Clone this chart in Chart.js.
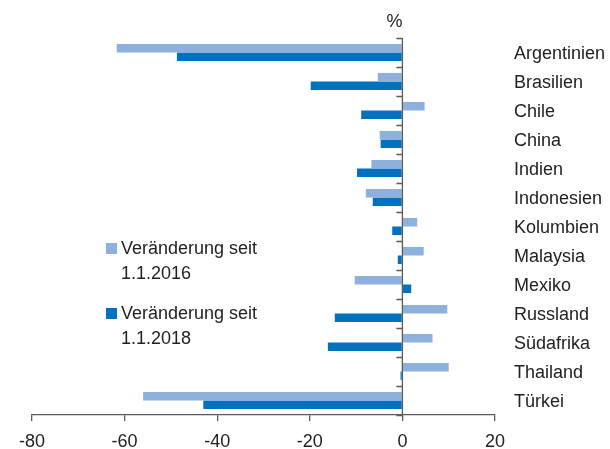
<!DOCTYPE html>
<html>
<head>
<meta charset="utf-8">
<script src="https://cdn.jsdelivr.net/npm/chart.js@4/dist/chart.umd.min.js"></script>
<style>
  html, body { margin: 0; padding: 0; background: #ffffff; }
  #wrap { width: 610px; height: 449px; }
</style>
</head>
<body>
<div id="wrap"><canvas id="c" width="610" height="449"></canvas></div>
<script>
// Länder (von oben nach unten)
const countries = ["Argentinien", "Brasilien", "Chile", "China", "Indien", "Indonesien",
  "Kolumbien", "Malaysia", "Mexiko", "Russland", "Südafrika", "Thailand", "Türkei"];

// Veränderung der Währung in %
const since2016 = [-61.7, -5.3, 4.8, -4.9, -6.7, -7.9, 3.2, 4.6, -10.3, 9.7, 6.5, 10.0, -56.0];
const since2018 = [-48.7, -19.8, -8.9, -4.7, -9.8, -6.4, -2.2, -1.0, 1.9, -14.6, -16.1, -0.4, -43.0];

const seriesLabels = [["Veränderung seit", "1.1.2016"], ["Veränderung seit", "1.1.2018"]];
const xTicks = [-80, -60, -40, -20, 0, 20];
const unitLabel = "%";

const FONT = '"Liberation Sans", Arial, Helvetica, sans-serif';
const TEXT = "#222222";
const AXIS = "#5a5a5a";
const LIGHT = "#8eb0dc";
const DARK = "#0071bc";

// Nulllinie mit Teilstrichen, Einheit und Legende
const decorations = {
  id: "decorations",
  afterDatasetsDraw(chart) {
    const { ctx, chartArea, scales } = chart;
    const x0 = scales.x.getPixelForValue(0);
    ctx.save();
    ctx.strokeStyle = AXIS;
    ctx.lineWidth = 1.3;
    ctx.beginPath();
    ctx.moveTo(x0, chartArea.top);
    ctx.lineTo(x0, chartArea.bottom);
    for (let i = 0; i <= countries.length; i++) {
      const y = Math.round(scales.y.getPixelForValue(i - 0.5)) + 0.5;
      ctx.moveTo(x0 - 6, y);
      ctx.lineTo(x0, y);
    }
    ctx.stroke();

    ctx.fillStyle = TEXT;
    ctx.font = "18px " + FONT;
    ctx.textAlign = "right";
    ctx.textBaseline = "middle";
    ctx.fillText(unitLabel, x0, chartArea.top - 16);

    // Legende
    const colors = [LIGHT, DARK];
    const starts = [249, 314];
    ctx.textAlign = "left";
    seriesLabels.forEach((lines, k) => {
      ctx.fillStyle = colors[k];
      ctx.fillRect(106, starts[k] - 6, 11, 11);
      ctx.fillStyle = TEXT;
      lines.forEach((t, j) => ctx.fillText(t, 121, starts[k] + j * 25));
    });
    ctx.restore();
  }
};

new Chart(document.getElementById("c"), {
  type: "bar",
  data: {
    labels: countries,
    datasets: [
      { label: seriesLabels[0].join(" "), data: since2016, backgroundColor: LIGHT },
      { label: seriesLabels[1].join(" "), data: since2018, backgroundColor: DARK }
    ]
  },
  options: {
    indexAxis: "y",
    responsive: false,
    animation: false,
    devicePixelRatio: 1,
    layout: { padding: { left: 32, top: 38, right: 0, bottom: 0 } },
    datasets: { bar: { categoryPercentage: 0.59, barPercentage: 1.0 } },
    plugins: { legend: { display: false }, tooltip: { enabled: false } },
    scales: {
      x: {
        type: "linear",
        min: -80,
        max: 20,
        afterBuildTicks(scale) { scale.ticks = xTicks.map(v => ({ value: v })); },
        afterFit(scale) { scale.height = 34; },
        grid: { drawOnChartArea: false, drawTicks: true, tickLength: 6, color: AXIS, lineWidth: 1.3 },
        border: { display: true, color: AXIS, width: 1.3 },
        ticks: { color: TEXT, font: { family: FONT, size: 18 }, padding: 10, maxRotation: 0 }
      },
      y: {
        position: "right",
        afterFit(scale) { scale.width = 115; },
        grid: { display: false, drawTicks: false },
        border: { display: false },
        ticks: { color: TEXT, font: { family: FONT, size: 18 }, padding: 19, crossAlign: "near", labelOffset: 2 }
      }
    }
  },
  plugins: [decorations]
});
</script>
</body>
</html>
